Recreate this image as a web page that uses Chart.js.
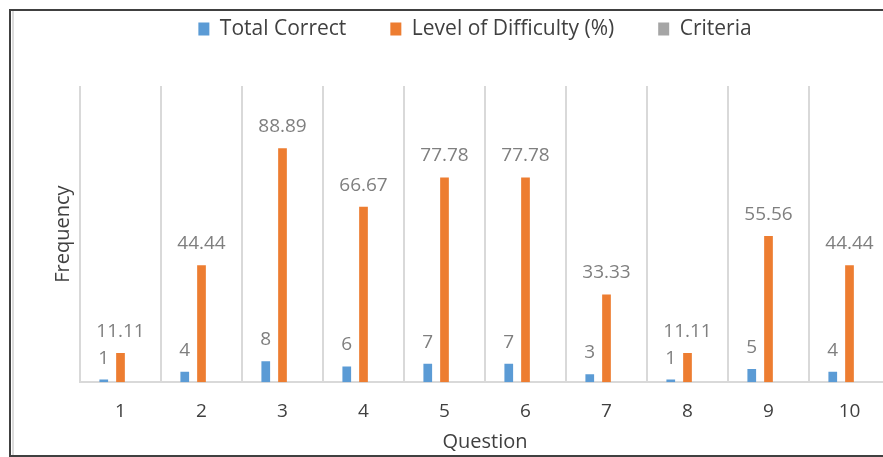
<!DOCTYPE html>
<html>
<head>
<meta charset="utf-8">
<script src="https://cdn.jsdelivr.net/npm/chart.js@4/dist/chart.umd.min.js"></script>
<style>
  html, body { margin: 0; padding: 0; background: #fff; overflow: hidden; width: 883px; height: 457px; }
  #frame { position: absolute; left: 9px; top: 9px; width: 1000px; height: 444px; border: 2px solid #404040; border-right: none; }
  #inner { position: absolute; left: 12px; top: 11px; width: 2px; height: 444px; background: #dcdcdc; }
  #wrap { position: absolute; left: 0; top: 0; width: 920px; height: 457px; }
</style>
</head>
<body>
<div id="frame"></div>
<div id="inner"></div>
<div id="wrap"><canvas id="chart"></canvas></div>
<script>
var questions = ["1", "2", "3", "4", "5", "6", "7", "8", "9", "10"];
var total_correct = [1, 4, 8, 6, 7, 7, 3, 1, 5, 4];
var difficulty = [11.11, 44.44, 88.89, 66.67, 77.78, 77.78, 33.33, 11.11, 55.56, 44.44];
var criteria = [0, 0, 0, 0, 0, 0, 0, 0, 0, 0];

var FONT = "'Open Sans', 'Liberation Sans', sans-serif";

// values above the bars, like excel data labels
var barLabels = {
    id: "barLabels",
    afterDatasetsDraw: function(chart) {
        var ctx = chart.ctx;
        ctx.save();
        ctx.font = "19px " + FONT;
        ctx.fillStyle = "#7f7f7f";
        ctx.textAlign = "center";
        ctx.textBaseline = "alphabetic";
        [0, 1].forEach(function(d) {
            var meta = chart.getDatasetMeta(d);
            meta.data.forEach(function(bar, i) {
                ctx.fillText(String(chart.data.datasets[d].data[i]), bar.x, bar.y - 16);
            });
        });
        ctx.restore();
    }
};

var ctx = document.getElementById("chart").getContext("2d");
var myChart = new Chart(ctx, {
    type: "bar",
    data: {
        labels: questions,
        datasets: [{
                label: "Total Correct",
                data: total_correct,
                backgroundColor: "#5b9bd5"
            },
            {
                label: "Level of Difficulty (%)",
                data: difficulty,
                backgroundColor: "#ed7d31"
            },
            {
                label: "Criteria",
                data: criteria,
                backgroundColor: "#a5a5a5"
            }
        ]
    },
    options: {
        responsive: true,
        maintainAspectRatio: false,
        animation: false,
        categoryPercentage: 0.62,
        barPercentage: 0.52,
        layout: {
            padding: { top: -25.5, left: 60, right: 30, bottom: 3 }
        },
        plugins: {
            tooltip: { enabled: false },
            legend: {
                position: "top",
                labels: {
                    boxWidth: 11,
                    boxHeight: 13,
                    padding: 44,
                    color: "#404040",
                    font: { family: FONT, size: 21 }
                }
            },
            // empty title used as a spacer between legend and plot
            title: {
                display: true,
                text: "",
                weight: 500,
                padding: { top: 26.5, bottom: 0 },
                font: { size: 10, lineHeight: 1 }
            }
        },
        scales: {
            x: {
                grid: { color: "#d9d9d9", lineWidth: 2, drawTicks: false },
                border: { color: "#d9d9d9", width: 2 },
                ticks: { color: "#404040", padding: 18, font: { family: FONT, size: 19 } },
                title: {
                    display: true,
                    text: "Question",
                    color: "#404040",
                    padding: { top: -11, bottom: 0 },
                    font: { family: FONT, size: 20 }
                }
            },
            y: {
                min: 0,
                max: 112.5,
                grid: { display: false },
                border: { display: false },
                ticks: { display: false },
                title: {
                    display: true,
                    text: "Frequency",
                    color: "#404040",
                    padding: { top: -7, bottom: -1 },
                    font: { family: FONT, size: 20, lineHeight: 1 }
                }
            }
        }
    },
    plugins: [barLabels]
});
</script>
</body>
</html>
